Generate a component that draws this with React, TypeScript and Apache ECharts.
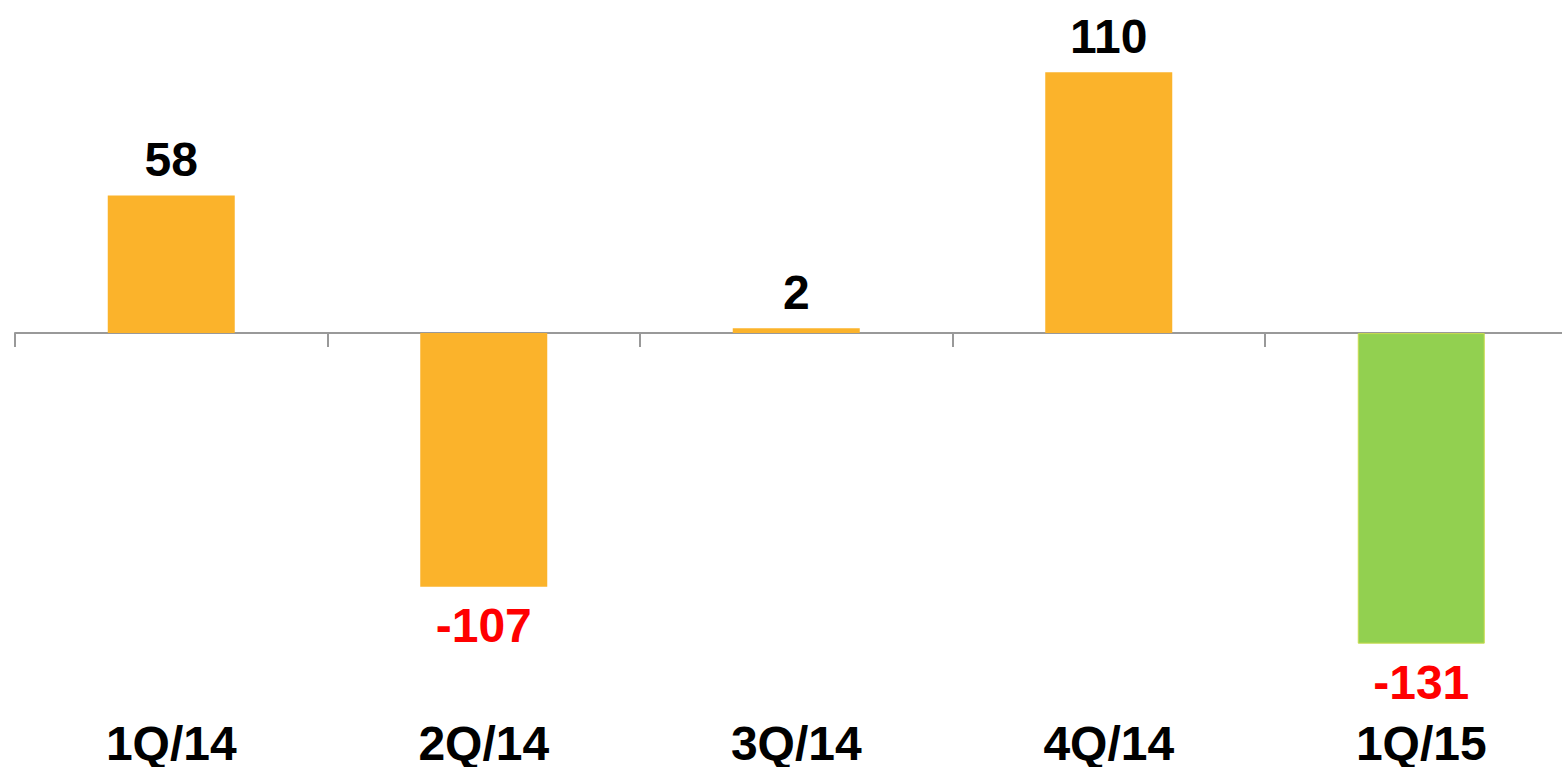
import React, { useEffect, useRef } from "react";
import * as echarts from "echarts";

const categories = ["1Q/14", "2Q/14", "3Q/14", "4Q/14", "1Q/15"];
const values = [58, -107, 2, 110, -131];
const highlightIndex = 4;

const ORANGE = "#FBB32B";
const GREEN = "#92D050";

export default function App() {
  const ref = useRef<HTMLDivElement>(null);

  useEffect(() => {
    if (!ref.current) return;
    const chart = echarts.init(ref.current, null, { renderer: "svg" });
    const font = "'Liberation Sans', Arial, sans-serif";
    const data = values.map((v, i) => ({
      value: v,
      itemStyle: {
        color: i === highlightIndex ? GREEN : ORANGE,
        borderColor: i === highlightIndex ? "#C9DC4E" : ORANGE,
        borderWidth: i === highlightIndex ? 1 : 0,
      },
      label: {
        show: true,
        position: v >= 0 ? "top" : "bottom",
        distance: v >= 0 ? 12 : 15,
        color: v >= 0 ? "#000000" : "#FF0000",
        fontSize: 48,
        fontWeight: "bold",
        fontFamily: font,
      },
    }));
    chart.setOption({
      animation: false,
      grid: { left: 15, width: 1562.5, top: 24.9, height: 645.5 },
      xAxis: [
        {
          type: "category",
          data: categories,
          position: "bottom",
          axisLine: { show: true, onZero: true, lineStyle: { color: "#999999", width: 2 } },
          axisTick: { show: true, length: 14, lineStyle: { color: "#999999", width: 2 } },
          axisLabel: { show: false },
          splitLine: { show: false },
        },
        {
          type: "category",
          data: categories,
          position: "bottom",
          axisLine: { show: false },
          axisTick: { show: false },
          axisLabel: {
            show: true,
            margin: 58,
            lineHeight: 40,
            color: "#000000",
            fontSize: 48,
            fontWeight: "bold",
            fontFamily: font,
          },
          splitLine: { show: false },
        },
      ],
      yAxis: {
        type: "value",
        min: -140,
        max: 130,
        show: false,
        splitLine: { show: false },
      },
      series: [
        {
          type: "bar",
          xAxisIndex: 0,
          barWidth: 127,
          data,
        },
      ],
    });
    return () => chart.dispose();
  }, []);

  return (
    <div
      style={{
        position: "absolute",
        left: 0,
        top: 0,
        width: 1562,
        height: 767,
        overflow: "hidden",
      }}
    >
      <div ref={ref} style={{ width: 1600, height: 767 }} />
    </div>
  );
}
